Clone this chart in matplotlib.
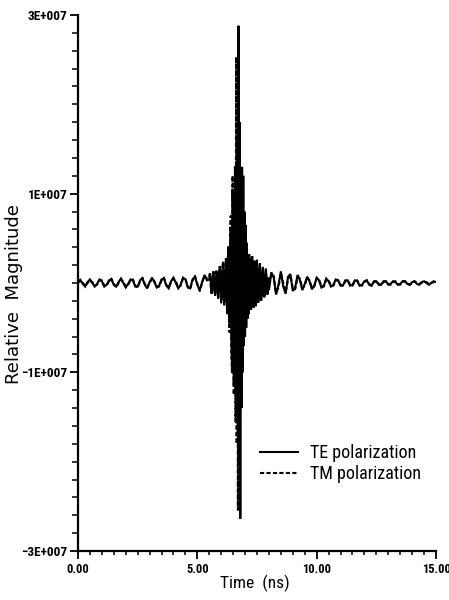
import numpy as np
import matplotlib
matplotlib.use("Agg")
import matplotlib.pyplot as plt
from matplotlib import font_manager as fm
from matplotlib.ticker import MultipleLocator, FixedLocator

# ---------------- data (values in units of 1e6) ----------------
time_pre = np.linspace(0.0, 5.4, 55)      # ns, 0.1 ns sampling
time_pulse = np.linspace(5.5, 7.975, 100)  # ns, 0.025 ns sampling
time_post = np.linspace(8.0, 15.0, 71)    # ns, 0.1 ns sampling

te_pre = [0.0, 0.3, -0.1, -0.4, 0.1, 0.4, 0.0, -0.4, -0.1, 0.4,
          0.2, -0.4, -0.2, 0.3, 0.4, -0.2, -0.4, 0.1, 0.5, 0.0,
          -0.5, -0.1, 0.4, 0.3, -0.4, -0.4, 0.3, 0.5, -0.2, -0.6,
          0.1, 0.6, 0.1, -0.5, -0.3, 0.4, 0.5, -0.3, -0.6, 0.2,
          0.6, 0.0, -0.6, -0.2, 0.6, 0.4, -0.5, -0.6, 0.4, 0.7,
          -0.2, -0.8, 0.1, 0.9, 0.3]
te_pulse = [0.4, 1.1, 0.7, -0.6, -1.2, -0.6, 0.8, 1.3, 0.3, -1.0,
            -1.4, -0.2, 1.3, 1.2, -0.5, -1.6, -0.9, 1.4, 1.9, 0.2,
            -2.0, -1.7, 1.0, 2.3, 0.5, -2.2, -2.0, 1.2, 2.8, -0.4,
            -3.2, 1.5, 3.6, -2.5, -4.5, 3.5, 6.0, -6.0, -8.5, 10.5,
            7.0, -11.5, -9.0, 11.5, 9.0, -13.0, -10.0, 14.5, -17.0, 28.8,
            -20.0, 18.0, -26.4, 12.5, -14.0, 13.0, -10.0, 12.0, -7.0, 8.0,
            -6.0, 6.5, -5.0, 4.5, -4.0, 3.0, -3.5, 3.2, -2.0, 2.8,
            -3.0, 1.5, 3.0, -2.2, -2.8, 1.8, 2.5, -1.5, -2.6, 1.2,
            2.6, 0.5, -2.2, -1.8, 1.5, 2.2, -0.5, -2.0, -1.2, 1.2,
            1.8, 0.2, -1.6, -1.4, 0.9, 1.6, 0.3, -1.3, -1.2, 0.6]
te_post = [-0.8, 1.2, 0.6, -1.3, -0.2, 1.3, -0.4, -1.2, 0.7, 1.0,
           -0.9, -0.5, 0.9, 0.3, -0.8, -0.1, 0.7, 0.2, -0.7, -0.3,
           0.6, 0.3, -0.5, -0.3, 0.5, 0.2, -0.4, -0.2, 0.4, 0.3,
           -0.3, -0.3, 0.3, 0.3, -0.3, -0.2, 0.3, 0.2, -0.3, -0.2,
           0.2, 0.3, -0.2, -0.3, 0.2, 0.2, -0.2, -0.2, 0.2, 0.2,
           -0.2, -0.1, 0.2, 0.1, -0.2, -0.1, 0.2, 0.2, -0.1, -0.2,
           0.1, 0.2, -0.1, -0.2, 0.1, 0.2, 0.0, -0.2, 0.0, 0.2, 0.1]

tm_pre = [0.1, 0.4, 0.0, -0.3, 0.0, 0.3, 0.1, -0.3, -0.2, 0.3,
          0.3, -0.3, -0.3, 0.2, 0.5, -0.1, -0.5, 0.0, 0.4, 0.1,
          -0.4, -0.2, 0.3, 0.4, -0.3, -0.5, 0.2, 0.6, -0.1, -0.5,
          0.0, 0.5, 0.2, -0.4, -0.4, 0.3, 0.6, -0.2, -0.5, 0.1,
          0.5, 0.2, -0.5, -0.3, 0.5, 0.5, -0.4, -0.7, 0.3, 0.8,
          -0.1, -0.9, 0.0, 0.8, 0.5]
tm_pulse = [0.6, 1.0, 0.3, -0.9, -1.1, -0.2, 1.0, 1.2, -0.1, -1.2,
            -1.2, 0.3, 1.5, 0.8, -1.0, -1.7, -0.3, 1.8, 1.6, -0.6,
            -2.2, -1.2, 1.6, 2.4, -0.3, -2.6, -1.4, 2.2, 2.6, -1.6,
            -3.4, 2.6, 4.2, -3.8, -5.5, 5.5, 7.5, -8.0, -10.0, 12.0,
            8.5, -12.5, -10.5, 13.0, -15.5, 25.3, -18.0, 16.0, -25.4, 11.0,
            -13.0, 12.0, -9.5, 10.5, -8.0, 7.5, -6.5, 6.0, -5.0, 5.0,
            -4.5, 4.0, -3.5, 3.2, -3.0, 2.8, -2.8, 2.5, -2.2, 2.6,
            -2.4, 1.2, 2.6, -1.8, -2.4, 1.6, 2.2, -1.2, -2.2, 1.0,
            2.2, 0.6, -1.8, -1.6, 1.2, 1.9, -0.2, -1.7, -1.1, 1.0,
            1.6, 0.3, -1.4, -1.3, 0.7, 1.4, 0.4, -1.1, -1.1, 0.4]
tm_post = [-0.6, 1.0, 0.8, -1.1, -0.5, 1.1, 0.0, -1.0, 0.4, 0.9,
           -0.6, -0.7, 0.7, 0.5, -0.6, -0.3, 0.6, 0.3, -0.5, -0.4,
           0.5, 0.4, -0.4, -0.4, 0.4, 0.3, -0.3, -0.3, 0.3, 0.3,
           -0.2, -0.3, 0.2, 0.3, -0.2, -0.3, 0.2, 0.3, -0.2, -0.3,
           0.1, 0.3, -0.1, -0.3, 0.1, 0.2, -0.1, -0.2, 0.1, 0.2,
           -0.1, -0.2, 0.1, 0.2, -0.1, -0.2, 0.1, 0.2, 0.0, -0.2,
           0.0, 0.2, 0.0, -0.1, 0.0, 0.1, 0.1, -0.1, 0.0, 0.1, 0.1]

series_labels = ["TE polarization", "TM polarization"]
ytick_values = [-3e7, -1e7, 1e7, 3e7]
ytick_labels = ["\u22123E+007", "\u22121E+007", "1E+007", "3E+007"]
xtick_values = [0, 5, 10, 15]
xtick_labels = ["0.00", "5.00", "10.00", "15.00"]
x_label = "Time  (ns)"
y_label = "Relative  Magnitude"

time_ns = np.concatenate([time_pre, time_pulse, time_post])
te = np.concatenate([te_pre, te_pulse, te_post]) * 1e6
tm = np.concatenate([tm_pre, tm_pulse, tm_post]) * 1e6

# ---------------- fonts ----------------
names = {f.name for f in fm.fontManager.ttflist}
narrow = "DejaVu Sans"
for cand in ["Liberation Sans Narrow", "Roboto Condensed", "Roboto"]:
    if cand in names:
        narrow = cand
        break

# ---------------- figure ----------------
fig = plt.figure(figsize=(4.49, 6.0), dpi=100)
ax = fig.add_axes([78 / 449, 1 - 551 / 600, (436 - 78) / 449, (551 - 15) / 600])

ax.plot(time_ns, te, color="black", lw=1.5, solid_joinstyle="miter",
        label=series_labels[0], zorder=3)
ax.plot(time_ns, tm, color="black", lw=1.5, dashes=(2.0, 1.1),
        label=series_labels[1], zorder=2)

ax.set_xlim(0, 15)
ax.set_ylim(-3e7, 3e7)

for s in ["top", "right"]:
    ax.spines[s].set_visible(False)
for s in ["left", "bottom"]:
    ax.spines[s].set_linewidth(1.6)

ax.xaxis.set_major_locator(FixedLocator(xtick_values))
ax.xaxis.set_minor_locator(MultipleLocator(0.5))
ax.set_xticklabels(xtick_labels)
ax.yaxis.set_major_locator(FixedLocator(ytick_values))
ax.yaxis.set_minor_locator(MultipleLocator(2e6))
ax.set_yticklabels(ytick_labels)

ax.tick_params(axis="x", which="major", direction="out", length=5.5, width=1.3, pad=3)
ax.tick_params(axis="x", which="minor", direction="out", length=3.2, width=1.1)
ax.tick_params(axis="y", which="major", direction="out", length=6, width=1.3, pad=1.5)
ax.tick_params(axis="y", which="minor", direction="out", length=4.2, width=1.1)

for lab in ax.get_yticklabels():
    lab.set_fontfamily(narrow)
    lab.set_fontweight("bold")
    lab.set_fontsize(9.5)
for lab in ax.get_xticklabels():
    lab.set_fontfamily(narrow)
    lab.set_fontweight("bold")
    lab.set_fontsize(9)

ax.set_xlabel(x_label, fontfamily=narrow, fontsize=12.5)
ax.xaxis.set_label_coords((255 - 78) / 358, (551 - 575) / 536)
ax.set_ylabel(y_label, fontfamily="DejaVu Sans", fontsize=13)
ax.yaxis.set_label_coords((23 - 78) / 358, (551 - 294) / 536)

leg = ax.legend(loc="upper left", bbox_to_anchor=(260 / 449, 1 - 444 / 600),
                bbox_transform=fig.transFigure, frameon=False,
                prop={"family": narrow, "size": 13},
                handlelength=2.1, handletextpad=0.65, labelspacing=0.18,
                borderpad=0, borderaxespad=0)

fig.savefig("out.png", dpi=100)
